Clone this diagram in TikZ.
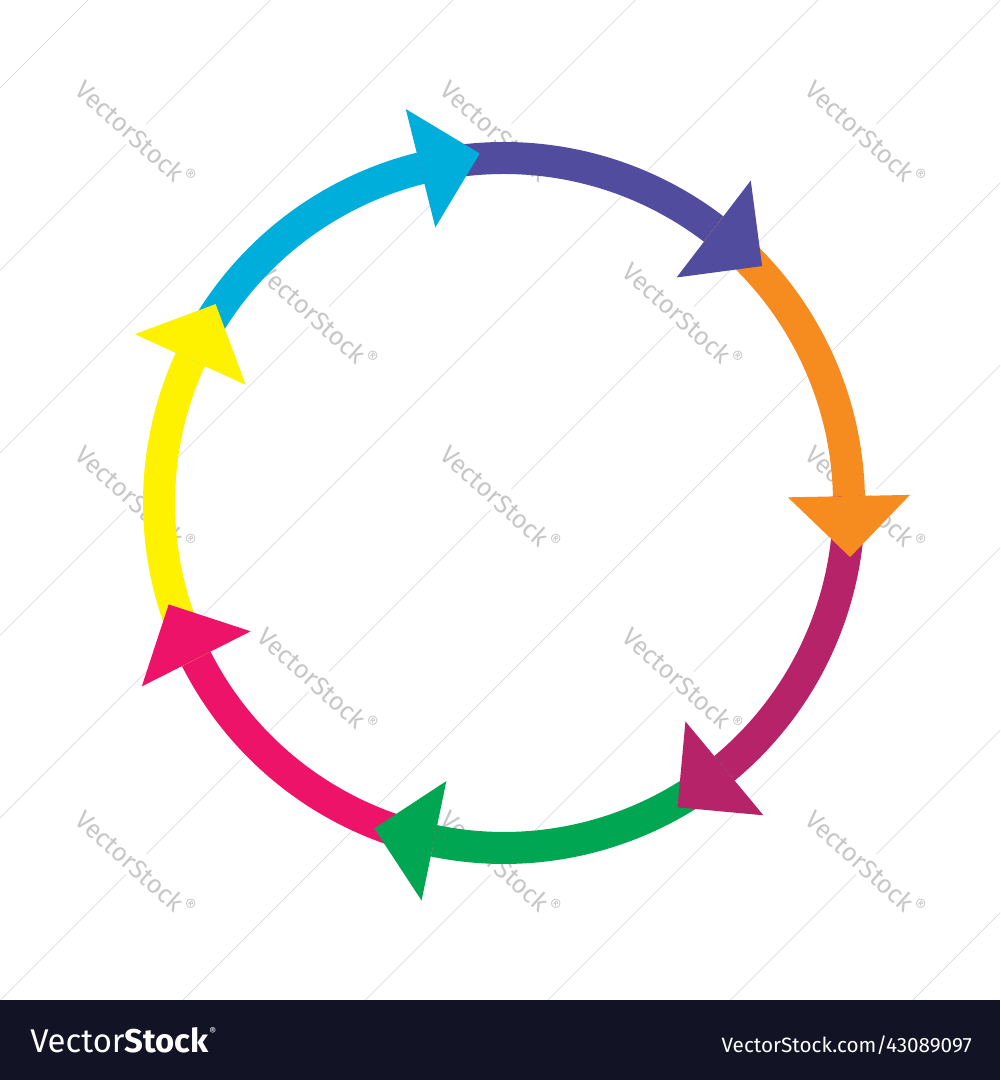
\documentclass[tikz,border=0pt]{standalone}
\usepackage{fontspec}
\setmainfont{Fira Sans}
\usepackage{graphicx}
\usetikzlibrary{calc}
\definecolor{cCyan}{HTML}{00AEDB}
\definecolor{cPurple}{HTML}{524C9F}
\definecolor{cOrange}{HTML}{F68B20}
\definecolor{cMagenta}{HTML}{B72369}
\definecolor{cGreen}{HTML}{00A651}
\definecolor{cPink}{HTML}{EC1369}
\definecolor{cYellow}{HTML}{FFF200}
\definecolor{barcol}{HTML}{121324}
\begin{document}
\begin{tikzpicture}[x=0.75pt,y=0.75pt,
  band/.style={line width=24pt},
  wmline/.style={draw=black!16, line width=0.5pt},
  wmtext/.style={rotate=-42, text=black!22, fill=white, inner sep=2pt},
  bartext/.style={text=white, inner sep=0pt}]
\useasboundingbox (0,0) rectangle (1000,1080);
\fill[white] (0,0) rectangle (1000,1080);
% watermark layer
\begin{scope}
\clip (0,80) rectangle (1000,1080);
\foreach \k in {0,...,10}{
  \pgfmathsetmacro\c{88+182.5*\k}
  \draw[wmline] (0,1080-\c) -- (\c,1080);
}
\foreach \i in {0,1,2}{
  \foreach \j in {0,1,2}{
    \node[wmtext] (wma-\i-\j) at (136+365*\i, 946-365*\j) {\resizebox{112pt}{!}{VectorStock\textsuperscript{\textregistered}}};
  }
}
\foreach \i in {0,1}{
  \foreach \j in {0,1}{
    \node[wmtext] (wmb-\i-\j) at (318+365*\i, 764-365*\j) {\resizebox{112pt}{!}{VectorStock\textsuperscript{\textregistered}}};
  }
}
\end{scope}
% circular arrows
\begin{scope}[shift={(504,577)}]
\foreach \k/\col in {0/cCyan,1/cPurple,2/cOrange,3/cMagenta,4/cGreen,5/cPink,6/cYellow}{
  \pgfmathsetmacro\a{104-360/7*\k}
  \pgfmathsetmacro\b{\a+360/7}
  \draw[band,\col] (\b:345) arc[start angle=\b, end angle=\a, radius=345];
}
\foreach \k/\col in {0/cCyan,1/cPurple,2/cOrange,3/cMagenta,4/cGreen,5/cPink,6/cYellow}{
  \pgfmathsetmacro\a{104-360/7*\k}
  \pgfmathsetmacro\t{\a-90}
  \fill[\col] (\a:406) -- (\a:284) -- ($(\a:345)+(\t:61)$) -- cycle;
}
\end{scope}
% bottom bar
\fill[barcol] (0,0) rectangle (1000,80);
\node[bartext, anchor=base west] (logo) at (30,27) {\resizebox{134pt}{!}{Vector\textbf{Stock}}};
\node[bartext, anchor=west, font=\fontsize{8}{8}\selectfont] (reg) at (209,48) {\textregistered};
\node[bartext, anchor=base east] (url) at (972,27) {\resizebox{187.5pt}{!}{VectorStock.com/43089097}};
\end{tikzpicture}
\end{document}
